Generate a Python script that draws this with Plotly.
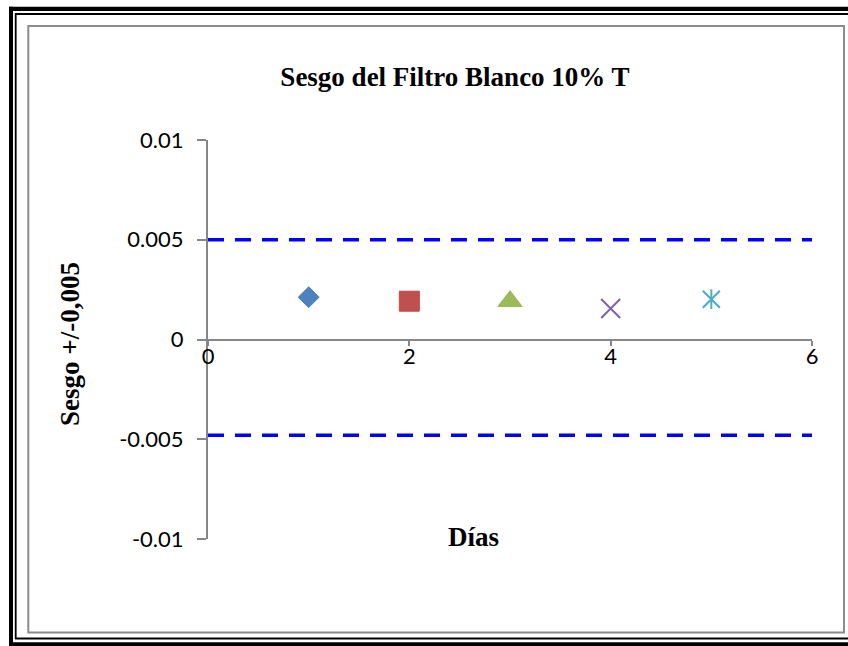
import plotly.graph_objects as go

# Daily bias readings of the 10% T white filter
dias = [1, 2, 3, 4, 5]
sesgo = [0.00212, 0.00192, 0.00192, 0.00155, 0.00202]
series_names = ["Día 1", "Día 2", "Día 3", "Día 4", "Día 5"]

# Acceptance limits (dashed guide lines)
limit_x = [0, 6]
limite_sup = [0.005, 0.005]
limite_inf = [-0.0048, -0.0048]

# Axis ticks
x_ticks = [0, 2, 4, 6]
x_ticktext = ["0", "2", "4", "6"]
y_ticks = [-0.01, -0.005, 0, 0.005, 0.01]
y_ticktext = ["-0.01", "-0.005", "0", "0.005", "0.01"]

# Marker styles per day (Office palette)
styles = [
    dict(symbol="diamond", size=16, color="#4F81BD", line=dict(color="#4A7EBB", width=1)),
    dict(symbol="square", size=20, color="#C0504D", line=dict(color="#BE4B48", width=1)),
    dict(symbol="triangle-up", size=21, color="#9BBB59", line=dict(color="#98B954", width=1)),
    dict(symbol="x-thin", size=19, color="#8064A2", line=dict(color="#8064A2", width=2)),
    dict(symbol="x-thin", size=17, color="#4BACC6", line=dict(color="#4BACC6", width=2)),
]

W, H = 848, 646
L, R, T, B = 208, 36, 140, 107
PW, PH = W - L - R, H - T - B


def px(xp):
    return (xp - L) / PW


def py(yp):
    return (H - B - yp) / PH


fig = go.Figure()

for name, lim in (("Límite superior", limite_sup), ("Límite inferior", limite_inf)):
    fig.add_trace(go.Scatter(
        x=limit_x, y=lim, mode="lines", name=name,
        line=dict(color="#0000FF", width=3.5, dash="16px,11px"),
        showlegend=False, hoverinfo="skip",
    ))

for i, (d, s, nm) in enumerate(zip(dias, sesgo, series_names)):
    fig.add_trace(go.Scatter(
        x=[d], y=[s], mode="markers", name=nm,
        marker=styles[i], showlegend=False,
    ))
    if i == 4:
        # vertical stroke that completes the star marker
        fig.add_trace(go.Scatter(
            x=[d], y=[s], mode="markers", name=nm,
            marker=dict(symbol="line-ns", size=14, color="#4BACC6",
                        line=dict(color="#4BACC6", width=2)),
            showlegend=False,
        ))

axis_gray = "#868686"
tick_font = dict(family="Lato, 'Open Sans', sans-serif", size=22, color="#000000")

fig.update_xaxes(
    range=[0, 6], tickvals=x_ticks, ticktext=x_ticktext,
    anchor="free", position=0.5,
    showline=True, linecolor=axis_gray, linewidth=2,
    ticks="outside", ticklen=5, tickwidth=2, tickcolor=axis_gray,
    showgrid=False, zeroline=False, tickfont=tick_font,
    ticklabelstandoff=-8,
)
fig.update_yaxes(
    range=[-0.01, 0.01], tickvals=y_ticks, ticktext=y_ticktext,
    showline=True, linecolor=axis_gray, linewidth=2,
    ticks="outside", ticklen=9, tickwidth=2, tickcolor=axis_gray,
    showgrid=False, zeroline=False, tickfont=tick_font,
    ticklabelstandoff=9,
)

serif_bold = dict(family="'Liberation Serif', 'Times New Roman', serif", size=27,
                  color="#000000", weight="bold")

fig.update_layout(
    width=W, height=H, autosize=False,
    margin=dict(l=L, r=R, t=T, b=B),
    paper_bgcolor="white", plot_bgcolor="white",
    title=dict(text="Sesgo del Filtro Blanco 10% T", font=serif_bold,
               x=455 / W, xref="container", xanchor="center",
               y=1 - 77 / H, yref="container", yanchor="middle"),
    annotations=[
        dict(text="Sesgo +/-0,005", xref="paper", yref="paper",
             x=px(70), y=py(344), xanchor="center", yanchor="middle",
             textangle=-90, showarrow=False, font=serif_bold),
        dict(text="Días", xref="paper", yref="paper",
             x=px(473), y=py(537), xanchor="center", yanchor="middle",
             showarrow=False, font=serif_bold),
    ],
    shapes=[
        # chart area frame
        dict(type="rect", xref="paper", yref="paper",
             x0=px(28.3), x1=px(844), y0=py(26), y1=py(632.5),
             line=dict(color="#8C8C8C", width=2), layer="below"),
        # double page border: thick outer, thin inner
        dict(type="line", xref="paper", yref="paper",
             x0=px(9), x1=px(850), y0=py(8.8), y1=py(8.8),
             line=dict(color="black", width=4.3)),
        dict(type="line", xref="paper", yref="paper",
             x0=px(15), x1=px(850), y0=py(14), y1=py(14),
             line=dict(color="black", width=2)),
        dict(type="line", xref="paper", yref="paper",
             x0=px(11), x1=px(11), y0=py(6.7), y1=py(648),
             line=dict(color="black", width=4)),
        dict(type="line", xref="paper", yref="paper",
             x0=px(15.7), x1=px(15.7), y0=py(13), y1=py(639),
             line=dict(color="black", width=1.8)),
        dict(type="line", xref="paper", yref="paper",
             x0=px(15), x1=px(850), y0=py(638.5), y1=py(638.5),
             line=dict(color="black", width=2)),
        dict(type="line", xref="paper", yref="paper",
             x0=px(9), x1=px(850), y0=py(644.5), y1=py(644.5),
             line=dict(color="black", width=4.5)),
    ],
)

fig.write_html("out.html")
